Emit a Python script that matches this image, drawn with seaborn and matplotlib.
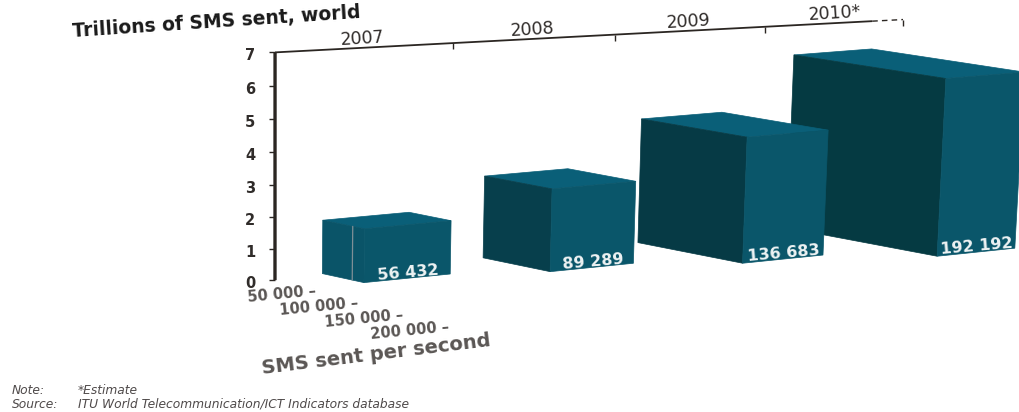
import numpy as np
import matplotlib
matplotlib.use("Agg")
import matplotlib.pyplot as plt
import seaborn as sns
from matplotlib.patches import Polygon

# Annual SMS volume against SMS sent per second, world
years = ["2007", "2008", "2009", "2010*"]
sms_per_second = [56432, 89289, 136683, 192192]
trillions_sent = [1.8, 2.8, 4.3, 6.1]
value_labels = ["56 432", "89 289", "136 683", "192 192"]
height_ticks = [0, 1, 2, 3, 4, 5, 6, 7]
depth_ticks = [50000, 100000, 150000, 200000]
depth_tick_labels = ["50 000 –", "100 000 –", "150 000 –", "200 000 –"]

BAR_WIDTH = 0.53
DEPTH_UNIT = 50000
INK = "#2b2622"
TOP_FACE = "#0a5f78"
LIGHT_FACE = "#0a566a"
DARK_FACES = ["#0a5468", "#073f4c", "#063a45", "#053a42"]

# Perspective cameras: (category, depth, height) -> figure pixels
BAR_CAMERA = np.array([
    [169.9490095, 34.0184746, -0.4228398, 322.3786957],
    [-10.8655704, 5.8013984, -30.0973236, 273.5934408],
    [0.0190818, -0.0077196, -0.0020029, 1.0],
])
WALL_CAMERA = np.array([
    [190.468621, 34.5409398, -1.5223094, 274.9838093],
    [-7.0308583, 5.2428277, -32.8298079, 280.1502842],
    [0.0438533, -0.0199804, -0.00557, 1.0],
])


def project(camera, t, d, h):
    x, y, w = camera @ np.array([t, d, h, 1.0])
    return x / w, y / w


sns.set_theme(style="white", rc={"font.family": ["DejaVu Sans"]})
fig = plt.figure(figsize=(10.19, 4.12), dpi=100)
ax = fig.add_axes([0, 0, 1, 1])
ax.set_xlim(0, 1019)
ax.set_ylim(412, 0)
ax.axis("off")


def wall(t, d, h):
    return project(WALL_CAMERA, t, d, h)


def seg(a, b, **kw):
    ax.plot([a[0], b[0]], [a[1], b[1]], color=INK, solid_capstyle="butt", **kw)


# Height axis with its ticks
seg(wall(0, 0, 0), wall(0, 0, 7), lw=2.4)
for h in height_ticks:
    x, y = wall(0, 0, h)
    seg((x - 6, y), (x, y), lw=1.0)
    ax.text(x - 25, y + 3.5, str(h), ha="center", va="center", fontsize=10.5,
            fontweight="bold", color="#302c2a")

# Year axis running along the top of the back wall
seg(wall(0, 0, 7), wall(3.77, 0, 7), lw=1.3)
seg(wall(3.77, 0, 7), wall(4, 0, 7), lw=1.0, ls=(0, (4, 3)))
for t in range(1, 5):
    x, y = wall(t, 0, 7)
    seg((x, y), (x, y + 6), lw=1.0)
for t, year in enumerate(years):
    x, y = wall(t + 0.48, 0, 7)
    ax.text(x + (2 if t == 3 else 0), y - 9.5, year, ha="center", va="center", rotation=3.5,
            fontsize=12.5, color="#302c2a", rotation_mode="anchor")

# Depth axis labels on the floor
for value, label in zip(depth_ticks, depth_tick_labels):
    x, y = wall(0, value / DEPTH_UNIT, 0)
    ax.text(x, y, label, ha="right", va="center", rotation=5.5, rotation_mode="anchor",
            fontsize=10.5, fontweight="bold", color="#5a5654")

# Boxes, farthest first: height is annual volume, depth is the per-second rate
for i in reversed(range(len(years))):
    d = sms_per_second[i] / DEPTH_UNIT
    h = trillions_sent[i]
    left, right = i, i + BAR_WIDTH
    c = lambda t, dd, hh: project(BAR_CAMERA, t, dd, hh)
    ax.add_patch(Polygon([c(left, 0, h), c(right, 0, h), c(right, d, h), c(left, d, h)],
                         closed=True, fc=TOP_FACE, ec=TOP_FACE, lw=0.5))
    ax.add_patch(Polygon([c(left, 0, h), c(left, d, h), c(left, d, 0), c(left, 0, 0)],
                         closed=True, fc=DARK_FACES[i], ec=DARK_FACES[i], lw=0.5))
    ax.add_patch(Polygon([c(left, d, h), c(right, d, h), c(right, d, 0), c(left, d, 0)],
                         closed=True, fc=LIGHT_FACE, ec=LIGHT_FACE, lw=0.5))
    x, y = c(right - 0.26, d, 0)
    ax.text(x, y - 5.5, value_labels[i], ha="center", va="center", rotation=5,
            rotation_mode="anchor", color="#eef3f4", fontsize=11.5, fontweight="bold")

# Crease line on the first box's side
edge = lambda hh: project(BAR_CAMERA, 0, 0.72 * sms_per_second[0] / DEPTH_UNIT, hh)
ax.plot(*zip(edge(trillions_sent[0]), edge(0)), color="#7f8f96", lw=0.9)

# Titles and notes
ax.text(72, 32, "Trillions of SMS sent, world", rotation=3.8, rotation_mode="anchor",
        ha="left", va="center", fontsize=13.5, fontweight="bold", color="#1a1a1a")
ax.text(262, 369, "SMS sent per second", rotation=7, rotation_mode="anchor",
        ha="left", va="center", fontsize=14, fontweight="bold", color="#5a5654")

note_style = dict(ha="left", va="center", fontsize=8.8, style="italic", color="#4f4a4a")
ax.text(12, 390, "Note:", **note_style)
ax.text(78, 390, "*Estimate", **note_style)
ax.text(12, 404, "Source:", **note_style)
ax.text(78, 404, "ITU World Telecommunication/ICT Indicators database", **note_style)

fig.savefig("out.png", dpi=100)
